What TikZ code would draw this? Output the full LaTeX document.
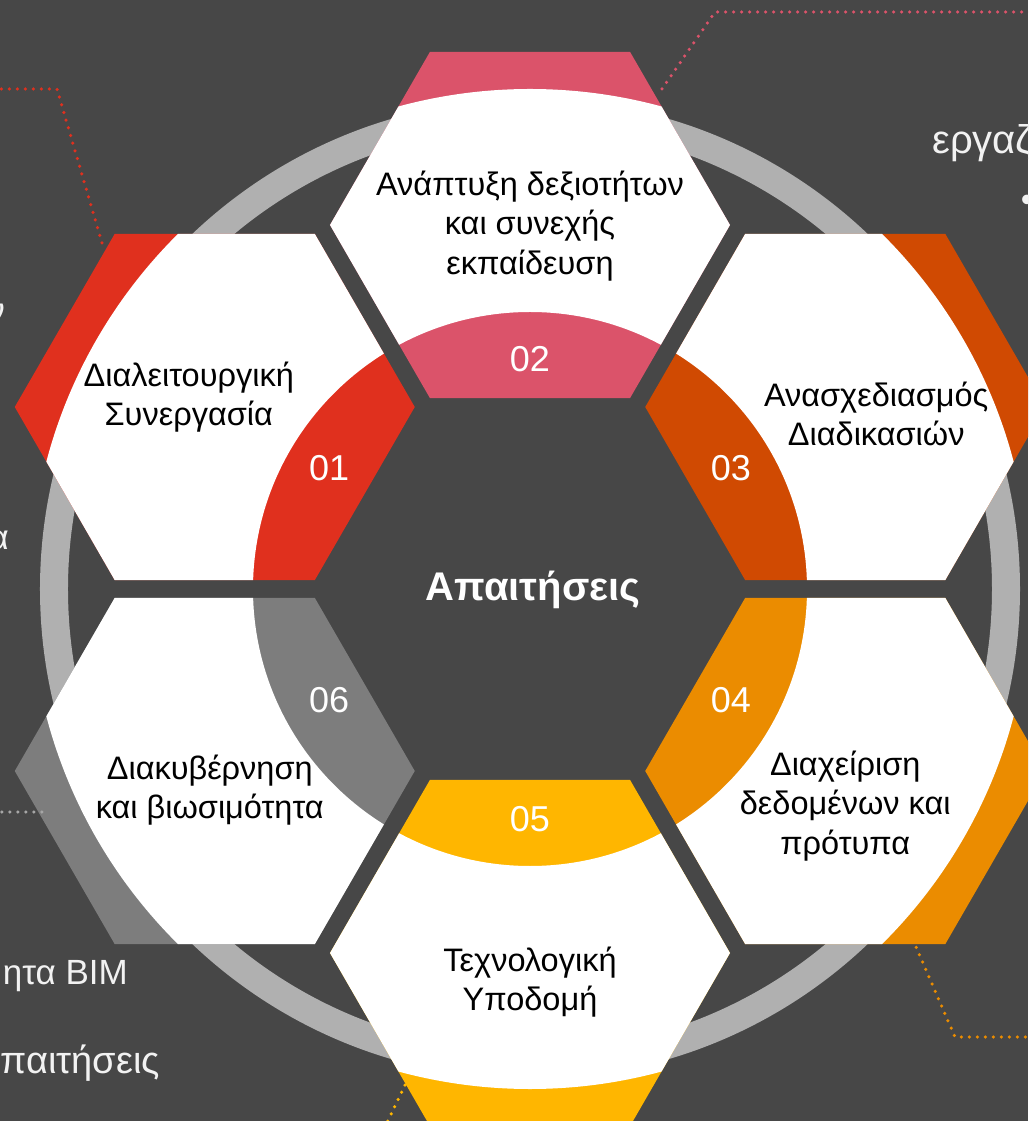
\documentclass[tikz,border=0pt]{standalone}
\usepackage{fontspec}
\setmainfont{Liberation Sans}
\usepackage{tikz}
\usetikzlibrary{shapes.geometric, positioning}

\definecolor{bgdark}{HTML}{474747}
\definecolor{ringgray}{HTML}{B0B0B0}
\definecolor{sidegray}{HTML}{F2F2F2}
\definecolor{dotgray}{HTML}{A6A6A6}
\definecolor{pwcred}{HTML}{E0301E}
\definecolor{pwcrose}{HTML}{DB536A}
\definecolor{pwcorange}{HTML}{D04A02}
\definecolor{pwctangerine}{HTML}{EB8C00}
\definecolor{pwcyellow}{HTML}{FFB600}
\definecolor{pwcgrey}{HTML}{7D7D7D}

\begin{document}
\begin{tikzpicture}[
    x=1pt, y=1pt,
    every node/.style={inner sep=0pt, align=center},
    hexcell/.style={
        regular polygon,
        regular polygon sides=6,
        minimum size=400pt,
        inner sep=0pt,
        outer sep=0pt,
        path picture={\fill[white, even odd rule] (ctr) circle (500pt) (ctr) circle (277pt);}
    },
    hexlabel/.style={font=\fontsize{32.5}{39.5}\selectfont, text=black},
    numlabel/.style={font=\fontsize{36}{40}\selectfont, text=white},
    title/.style={font=\fontsize{40}{46}\selectfont\bfseries, text=white},
    sidetext/.style={font=\fontsize{35}{40}\selectfont, text=sidegray},
    dotline/.style={line width=3.5pt, line cap=round, dash pattern=on 0pt off 8pt}
]
\useasboundingbox (-530,-532) rectangle (498,589);
\clip (-530,-532) rectangle (498,589);
\fill[bgdark] (-530,-532) rectangle (498,589);

% --- ring ---
\coordinate (ctr) at (0,0);
\draw[ringgray, line width=28pt] (ctr) circle (476pt);

% --- hexagons ---
\node (hex01) [hexcell, fill=pwcred] at (150:364) {};
\node (hex02) [hexcell, fill=pwcrose] at (90:364) {};
\node (hex03) [hexcell, fill=pwcorange] at (30:364) {};
\node (hex04) [hexcell, fill=pwctangerine] at (-30:364) {};
\node (hex05) [hexcell, fill=pwcyellow] at (-90:364) {};
\node (hex06) [hexcell, fill=pwcgrey] at (-150:364) {};

% --- numbers ---
\node (num01) [numlabel] at ([yshift=5pt]150:232) {01};
\node (num02) [numlabel] at ([yshift=-2pt]90:232) {02};
\node (num03) [numlabel] at ([yshift=5pt]30:232) {03};
\node (num04) [numlabel] at ([yshift=5pt]-30:232) {04};
\node (num05) [numlabel] at ([yshift=2pt]-90:232) {05};
\node (num06) [numlabel] at ([yshift=5pt]-150:232) {06};

% --- labels ---
\node (txt01) [hexlabel] at ([xshift=-26pt, yshift=10pt]hex01.center) {Διαλειτουργική\\Συνεργασία};
\node (txt02) [hexlabel] at ([yshift=-1pt]hex02.center) {Ανάπτυξη δεξιοτήτων\\και συνεχής\\εκπαίδευση};
\node (txt03) [hexlabel] at ([xshift=31pt, yshift=-7pt]hex03.center) {Ανασχεδιασμός\\Διαδικασιών};
\node (txt04) [hexlabel] at ([yshift=-35pt]hex04.center) {Διαχείριση\\δεδομένων και\\πρότυπα};
\node (txt05) [hexlabel] at ([yshift=-29pt]hex05.center) {Τεχνολογική\\Υποδομή};
\node (txt06) [hexlabel] at ([xshift=-5pt, yshift=-19pt]hex06.center) {Διακυβέρνηση\\και βιωσιμότητα};
\node (core) [title] at (3,-1) {Απαιτήσεις};

% --- side texts ---
\node (side1) [sidetext, font=\fontsize{40}{44}\selectfont, anchor=base west] at (402,435) {εργαζ};
\node (side2) [sidetext, anchor=center] at (497,386) {•};
\node (side3) [sidetext, anchor=base east] at (-525,266) {ν};
\node (side4) [sidetext, anchor=base east] at (-521,39) {α};
\node (side5) [sidetext, anchor=base east] at (-402,-395) {ητα BIM};
\node (side6) [sidetext, font=\fontsize{38}{42}\selectfont, anchor=base east] at (-370,-484) {απαιτήσεις};

% --- dotted leaders ---
\coordinate (red0) at (-428,346);
\coordinate (red1) at (-473,500);
\coordinate (red2) at (-536,500);
\coordinate (rose0) at (132,500);
\coordinate (rose1) at (185,577);
\coordinate (rose2) at (504,577);
\coordinate (grey0) at (-488,-223);
\coordinate (grey1) at (-536,-223);
\coordinate (tang0) at (383,-351);
\coordinate (tang1) at (425,-448);
\coordinate (tang2) at (504,-448);
\coordinate (yel0) at (-125,-496);
\coordinate (yel1) at (-146,-540);
\draw[dotline, pwcred] (red0) -- (red1) -- (red2);
\draw[dotline, pwcrose] (rose0) -- (rose1) -- (rose2);
\draw[dotline, dotgray] (grey0) -- (grey1);
\draw[dotline, pwctangerine] (tang0) -- (tang1) -- (tang2);
\draw[dotline, pwcyellow] (yel0) -- (yel1);

\end{tikzpicture}
\end{document}
